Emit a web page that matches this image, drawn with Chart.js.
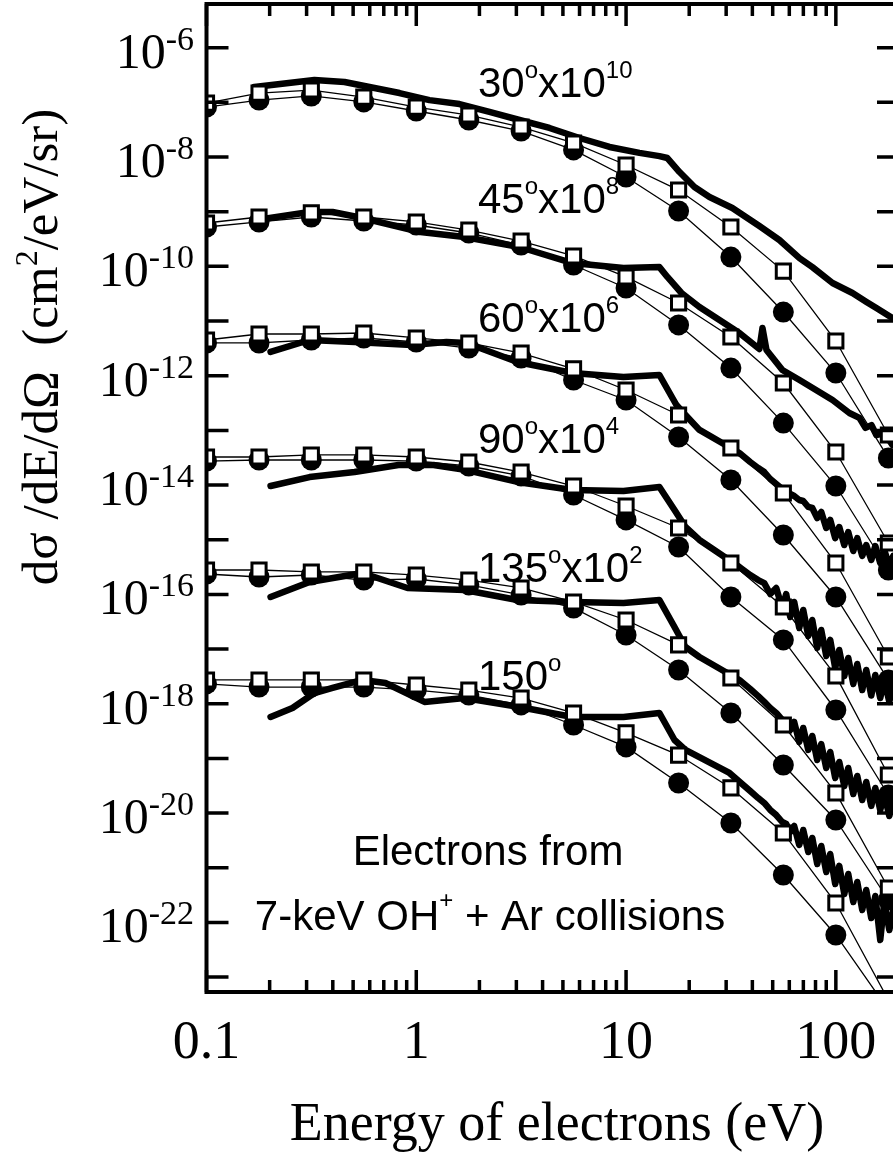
<!DOCTYPE html>
<html>
<head>
<meta charset="utf-8">
<script src="https://cdn.jsdelivr.net/npm/chart.js@4.4.1/dist/chart.umd.min.js"></script>
<style>
  html, body { margin: 0; padding: 0; background: #fff; overflow: hidden; }
  canvas { display: block; }
</style>
</head>
<body>
<canvas id="chart" width="914" height="1162"></canvas>
<script>
// energies of the calculated points (eV)
const markE = [0.1, 0.178, 0.316, 0.562, 1, 1.78, 3.16, 5.62, 10, 17.8, 31.6, 56.2, 100, 178];

// open squares / filled circles, already multiplied by the angle factor
const sq30 = [9.7e-8, 1.48e-7, 1.68e-7, 1.25e-7, 8.2e-8, 5.87e-8, 3.54e-8, 1.81e-8, 7.15e-9, 2.49e-9, 5.25e-10, 8.2e-11, 4.31e-12, 8.23e-14];
const ci30 = [8.2e-8, 1.10e-7, 1.31e-7, 1.02e-7, 6.95e-8, 4.76e-8, 2.99e-8, 1.35e-8, 4.31e-9, 1.03e-9, 1.48e-10, 1.46e-11, 1.12e-12, 3.13e-14];
const sq45 = [6.21e-10, 8.0e-10, 9.5e-10, 8.0e-10, 6.49e-10, 4.62e-10, 2.91e-10, 1.55e-10, 6.4e-11, 2.14e-11, 5.1e-12, 7.36e-13, 4.02e-14, 8.7e-16];
const ci45 = [5.25e-10, 6.49e-10, 8.0e-10, 6.76e-10, 5.71e-10, 4.08e-10, 2.46e-10, 1.06e-10, 4.02e-11, 8.5e-12, 1.38e-12, 1.36e-13, 9.6e-15, 2.79e-16];
const sq60 = [4.5e-12, 5.79e-12, 5.79e-12, 6.04e-12, 4.9e-12, 3.97e-12, 2.60e-12, 1.33e-12, 5.48e-13, 1.91e-13, 4.76e-14, 7.16e-15, 3.75e-16, 7.16e-18];
const ci60 = [3.97e-12, 3.97e-12, 4.5e-12, 4.9e-12, 4.14e-12, 3.21e-12, 2.11e-12, 8.35e-13, 3.6e-13, 7.57e-14, 1.24e-14, 1.22e-15, 8.96e-17, 2.72e-18];
const sq90 = [3.26e-14, 3.26e-14, 3.55e-14, 3.55e-14, 3.26e-14, 2.64e-14, 1.73e-14, 9.6e-15, 4.14e-15, 1.64e-15, 3.75e-16, 5.88e-17, 3.22e-18, 4.97e-20];
const ci90 = [2.75e-14, 2.87e-14, 2.87e-14, 2.87e-14, 2.75e-14, 2.23e-14, 1.47e-14, 6.58e-15, 2.3e-15, 7.36e-16, 8.96e-17, 1.47e-17, 7.68e-19, 2.14e-20];
const sq135 = [2.79e-16, 2.79e-16, 2.57e-16, 2.57e-16, 2.26e-16, 1.83e-16, 1.31e-16, 7.26e-17, 3.4e-17, 1.19e-17, 2.96e-18, 4.08e-19, 2.33e-20, 4.26e-22];
const ci135 = [2.36e-16, 2.08e-16, 2.26e-16, 1.83e-16, 1.91e-16, 1.49e-16, 9.75e-17, 5.64e-17, 1.81e-17, 4.14e-18, 6.77e-19, 7.57e-20, 7.47e-21, 2.57e-22];
const sq150 = [2.72e-18, 2.72e-18, 2.72e-18, 2.72e-18, 2.2e-18, 1.78e-18, 1.27e-18, 6.77e-19, 2.92e-19, 1.15e-19, 2.88e-20, 4.32e-21, 2.26e-22, 3.8e-24];
const ci150 = [2.3e-18, 2.02e-18, 2.02e-18, 2.02e-18, 1.78e-18, 1.44e-18, 9.5e-19, 4.08e-19, 1.62e-19, 3.55e-20, 6.58e-21, 7.37e-22, 5.88e-23, 2.5e-24];

// measured spectra (thick lines)
const exp30E = [0.169, 0.327, 0.455, 0.632, 0.832, 1.156, 1.607, 2.233, 3.105, 4.315, 5.997, 8.34, 11.58, 14.42, 15.74, 17.98, 21.18, 24.99, 32.1, 43.2, 53.8, 67.1, 77.3, 96.4, 120, 140, 156, 186];
const exp30 = [1.91e-7, 2.56e-7, 2.36e-7, 1.83e-7, 1.48e-7, 1.10e-7, 9.3e-8, 6.67e-8, 4.76e-8, 3.40e-8, 2.23e-8, 1.53e-8, 1.19e-8, 1.04e-8, 9.6e-9, 5.32e-9, 2.83e-9, 1.86e-9, 1.17e-9, 5.47e-10, 3.04e-10, 1.42e-10, 9.7e-11, 4.97e-11, 3.26e-11, 2.23e-11, 1.73e-11, 1.14e-11];
const exp45E = [0.173, 0.310, 0.399, 0.554, 1.047, 1.698, 3.105, 5.555, 9.72, 14.42, 15.74, 18.37, 22.38, 34.7, 43.2, 44.7, 46.7, 55.6, 67.1, 96.4, 116, 129.5, 138.4, 147.9, 156, 170.5, 186];
const exp45 = [7.05e-10, 9.9e-10, 9.9e-10, 7.67e-10, 4.25e-10, 3.44e-10, 2.26e-10, 1.15e-10, 9.3e-11, 9.7e-11, 6.4e-11, 3.26e-11, 1.81e-11, 6.04e-12, 3.08e-12, 7.46e-12, 2.95e-12, 1.27e-12, 8.35e-13, 3.6e-13, 2.08e-13, 1.69e-13, 1.11e-13, 1.25e-13, 8.23e-14, 8.95e-14, 5.4e-14];

// the noisy high-energy tails share one energy grid
const tailE = [39.06, 42.65, 45.57, 48.67, 51.97, 55.51, 58.0, 60.6, 63.3, 66.9, 69.9, 73.9, 77.2, 81.5, 85.2, 90.0, 94.0, 99.3, 103.8, 109.7, 114.6, 121.1, 126.5, 133.6, 139.6, 147.5, 154.2, 162.8, 170.1, 179.8, 187.8];

const exp60E = [0.202, 0.310, 0.508, 0.948, 1.393, 1.734, 3.036, 5.555, 9.72, 14.42, 17.38, 19.19, 22.38, 34.7].concat(tailE);
const exp60 = [2.72e-12, 4.5e-12, 4.14e-12, 3.65e-12, 4.14e-12, 3.97e-12, 1.78e-12, 1.12e-12, 9.5e-13, 1.03e-12, 2.91e-13, 1.91e-13, 1.02e-13, 3.86e-14,
  2.64e-14, 2.05e-14, 1.73e-14, 1.29e-14, 1.045e-14, 8.47e-15, 7.8e-15, 6.86e-15, 6.31e-15, 5.33e-15, 5.11e-15, 3.97e-15, 3.80e-15, 2.49e-15, 3.21e-15, 1.64e-15,
  2.3e-15, 1.07e-15, 1.71e-15, 8.0e-16, 1.38e-15, 6.22e-16, 1.07e-15, 5.04e-16, 8.0e-16, 4.26e-16, 7.67e-16, 3.75e-16, 6.49e-16, 3.30e-16, 5.04e-16];
const exp90E = [0.202, 0.310, 0.508, 0.822, 1.208, 1.734, 3.036, 5.555, 9.72, 14.42, 17.02, 19.19, 22.38, 34.7].concat(tailE);
const exp90 = [9.6e-15, 1.40e-14, 1.73e-14, 2.33e-14, 2.33e-14, 1.88e-14, 1.14e-14, 8.1e-15, 7.8e-15, 9.2e-15, 3.5e-15, 1.71e-15, 9.9e-16, 3.17e-16,
  2.26e-16, 1.83e-16, 1.61e-16, 1.016e-16, 1.31e-16, 5.64e-17, 1.016e-16, 3.86e-17, 7.26e-17, 2.43e-17, 5.19e-17, 1.73e-17, 3.4e-17, 1.05e-17, 2.23e-17, 7.46e-18,
  1.47e-17, 4.5e-18, 9.6e-18, 3.22e-18, 6.87e-18, 2.3e-18, 5.33e-18, 1.78e-18, 4.14e-18, 1.41e-18, 3.36e-18, 1.27e-18, 2.72e-18, 1.08e-18, 2.3e-18];
const exp135E = [0.202, 0.310, 0.554, 0.908, 1.698, 3.036, 5.555, 9.72, 14.42, 17.02, 19.19, 22.38, 34.7].concat(tailE);
const exp135 = [8.96e-17, 1.69e-16, 2.46e-16, 1.31e-16, 1.20e-16, 7.9e-17, 7.26e-17, 6.96e-17, 7.9e-17, 2.53e-17, 1.09e-17, 7.16e-18, 2.72e-18,
  1.86e-18, 1.38e-18, 1.08e-18, 8.36e-19, 6.77e-19, 5.04e-19, 4.63e-19, 3.30e-19, 4.63e-19, 2.0e-19, 3.6e-19, 1.43e-19, 2.57e-19, 9.35e-20, 1.83e-19, 6.67e-20,
  1.31e-19, 4.38e-20, 8.6e-20, 3.13e-20, 6.67e-20, 2.23e-20, 4.76e-20, 1.73e-20, 3.7e-20, 1.35e-20, 2.88e-20, 1.14e-20, 2.23e-20, 8.83e-21, 1.73e-20];
const exp150E = [0.202, 0.257, 0.327, 0.399, 0.554, 0.713, 1.094, 1.698, 3.105, 5.555, 9.72, 14.42, 17.02, 19.19, 31.1].concat(tailE);
const exp150 = [5.72e-19, 8.36e-19, 1.57e-18, 1.94e-18, 2.72e-18, 2.39e-18, 1.08e-18, 1.27e-18, 8.7e-19, 5.72e-19, 5.72e-19, 6.77e-19, 2.17e-19, 1.43e-19, 5.41e-20,
  2.53e-20, 1.88e-20, 1.53e-20, 1.14e-20, 9.2e-21, 6.86e-21, 6.31e-21, 4.51e-21, 5.8e-21, 2.61e-21, 4.9e-21, 1.94e-21, 3.5e-21, 1.17e-21, 2.5e-21, 8.36e-22,
  1.78e-21, 5.04e-22, 1.08e-21, 3.3e-22, 7.67e-22, 2.36e-22, 5.48e-22, 1.69e-22, 3.92e-22, 1.2e-22, 3.04e-22, 4.76e-23, 2.36e-22, 7.26e-23, 1.69e-22];

// axis labels
const xTickVals = [0.1, 1, 10, 100];
const xTickLabels = ['0.1', '1', '10', '100'];
const yTickExps = ['-6', '-8', '-10', '-12', '-14', '-16', '-18', '-20', '-22'];
const angleLabels = ['30', '45', '60', '90', '135', '150'];
const angleFactors = ['10', '8', '6', '4', '2', ''];

const SERIF = "'Liberation Serif', 'Times New Roman', serif";
const SANS = "'Liberation Sans', Arial, sans-serif";

const pts = (xs, ys) => xs.map((x, i) => ({ x: x, y: ys[i] }));

const series = [
  [sq30, ci30, exp30E, exp30],
  [sq45, ci45, exp45E, exp45],
  [sq60, ci60, exp60E, exp60],
  [sq90, ci90, exp90E, exp90],
  [sq135, ci135, exp135E, exp135],
  [sq150, ci150, exp150E, exp150]
];

const datasets = [];
series.forEach(s => {
  datasets.push({
    data: pts(markE, s[0]), showLine: true, order: 0, clip: 0,
    borderColor: '#000', borderWidth: 1.3,
    pointStyle: 'rect', pointRadius: 10, pointBorderWidth: 3,
    pointBackgroundColor: '#fff', pointBorderColor: '#000'
  });
  datasets.push({
    data: pts(markE, s[1]), showLine: true, order: 1, clip: 0,
    borderColor: '#000', borderWidth: 1.3,
    pointStyle: 'circle', pointRadius: 10.5, pointBorderWidth: 0,
    pointBackgroundColor: '#000', pointBorderColor: '#000'
  });
  datasets.push({
    data: pts(s[2], s[3]), showLine: true, order: 2, clip: 0,
    borderColor: '#000', borderWidth: 6.5, pointRadius: 0,
    borderJoinStyle: 'round', borderCapStyle: 'round'
  });
});

// draws text pieces side by side; each piece is [text, font, rise]
function drawParts(ctx, parts, x, y, align) {
  let total = 0;
  parts.forEach(p => { ctx.font = p[1]; total += ctx.measureText(p[0]).width; });
  let cx = x;
  if (align === 'right') cx = x - total;
  if (align === 'center') cx = x - total / 2;
  ctx.textAlign = 'left';
  ctx.textBaseline = 'alphabetic';
  parts.forEach(p => {
    ctx.font = p[1];
    ctx.fillText(p[0], cx, y - (p[2] || 0));
    cx += ctx.measureText(p[0]).width;
  });
}

const decor = {
  id: 'decor',
  afterDatasetsDraw(chart) {
    const { ctx, chartArea: a, scales: { x, y } } = chart;
    ctx.save();
    ctx.strokeStyle = '#000';
    ctx.fillStyle = '#000';

    // ticks
    ctx.lineWidth = 3.5;
    for (let e = -23; e <= -6; e++) {
      const py = y.getPixelForValue(Math.pow(10, e));
      ctx.beginPath();
      ctx.moveTo(a.left, py); ctx.lineTo(a.left + 22, py);
      ctx.moveTo(a.right, py); ctx.lineTo(a.right - 22, py);
      ctx.stroke();
    }
    for (let d = 0.1; d < 150; d *= 10) {
      for (let m = 1; m <= 9; m++) {
        const v = d * m;
        if (v > 200) break;
        const px = x.getPixelForValue(v);
        const len = m === 1 ? 22 : 12;
        ctx.beginPath();
        ctx.moveTo(px, a.bottom); ctx.lineTo(px, a.bottom - len);
        ctx.moveTo(px, a.top); ctx.lineTo(px, a.top + len);
        ctx.stroke();
      }
    }
    ctx.lineWidth = 4;
    ctx.strokeRect(a.left, a.top, a.right - a.left, a.bottom - a.top);

    // y tick labels
    yTickExps.forEach(e => {
      const py = y.getPixelForValue(Number('1e' + e));
      drawParts(ctx, [['10', '50px ' + SERIF, 0], [e, '34px ' + SERIF, 18]], 194, py + 20, 'right');
    });
    // x tick labels
    ctx.font = '54px ' + SERIF;
    ctx.textAlign = 'center';
    xTickVals.forEach((v, i) => {
      ctx.fillText(xTickLabels[i], x.getPixelForValue(v), 1058);
    });

    // axis titles
    ctx.font = '54px ' + SERIF;
    ctx.textAlign = 'center';
    ctx.fillText('Energy of electrons (eV)', 557, 1140);
    ctx.save();
    ctx.translate(57, 347);
    ctx.rotate(-Math.PI / 2);
    drawParts(ctx, [['d\u03C3 /dE/d\u03A9  (cm', '51px ' + SERIF, 0], ['2', '32px ' + SERIF, 20], ['/eV/sr)', '51px ' + SERIF, 0]], 0, 0, 'center');
    ctx.restore();

    // angle labels inside the frame
    const baselines = [97, 213, 332, 453, 582, 690];
    angleLabels.forEach((lab, i) => {
      const parts = [[lab, '42px ' + SANS, 0], ['o', '24px ' + SANS, 19]];
      if (angleFactors[i]) {
        parts.push(['x10', '42px ' + SANS, 0]);
        parts.push([angleFactors[i], '24px ' + SANS, 19]);
      }
      drawParts(ctx, parts, 478, baselines[i], 'left');
    });
    ctx.font = '42px ' + SANS;
    ctx.textAlign = 'center';
    ctx.fillText('Electrons from', 488, 865);
    drawParts(ctx, [['7-keV OH', '42px ' + SANS, 0], ['+', '24px ' + SANS, 22], [' + Ar collisions', '42px ' + SANS, 0]], 490, 930, 'center');
    ctx.restore();
  }
};

new Chart(document.getElementById('chart').getContext('2d'), {
  type: 'scatter',
  data: { datasets: datasets },
  options: {
    responsive: false,
    animation: false,
    layout: { autoPadding: false, padding: { left: 0, top: 4, right: 15, bottom: 0 } },
    plugins: { legend: { display: false }, tooltip: { enabled: false } },
    scales: {
      x: {
        type: 'logarithmic', min: 0.1, max: 200, bounds: 'data',
        ticks: { display: false }, grid: { display: false }, border: { display: false },
        afterFit: s => { s.height = 170; }
      },
      y: {
        type: 'logarithmic', min: 5.33e-24, max: 6.3e-6, bounds: 'data',
        ticks: { display: false }, grid: { display: false }, border: { display: false },
        afterFit: s => { s.width = 206.5; }
      }
    }
  },
  plugins: [decor]
});
</script>
</body>
</html>
